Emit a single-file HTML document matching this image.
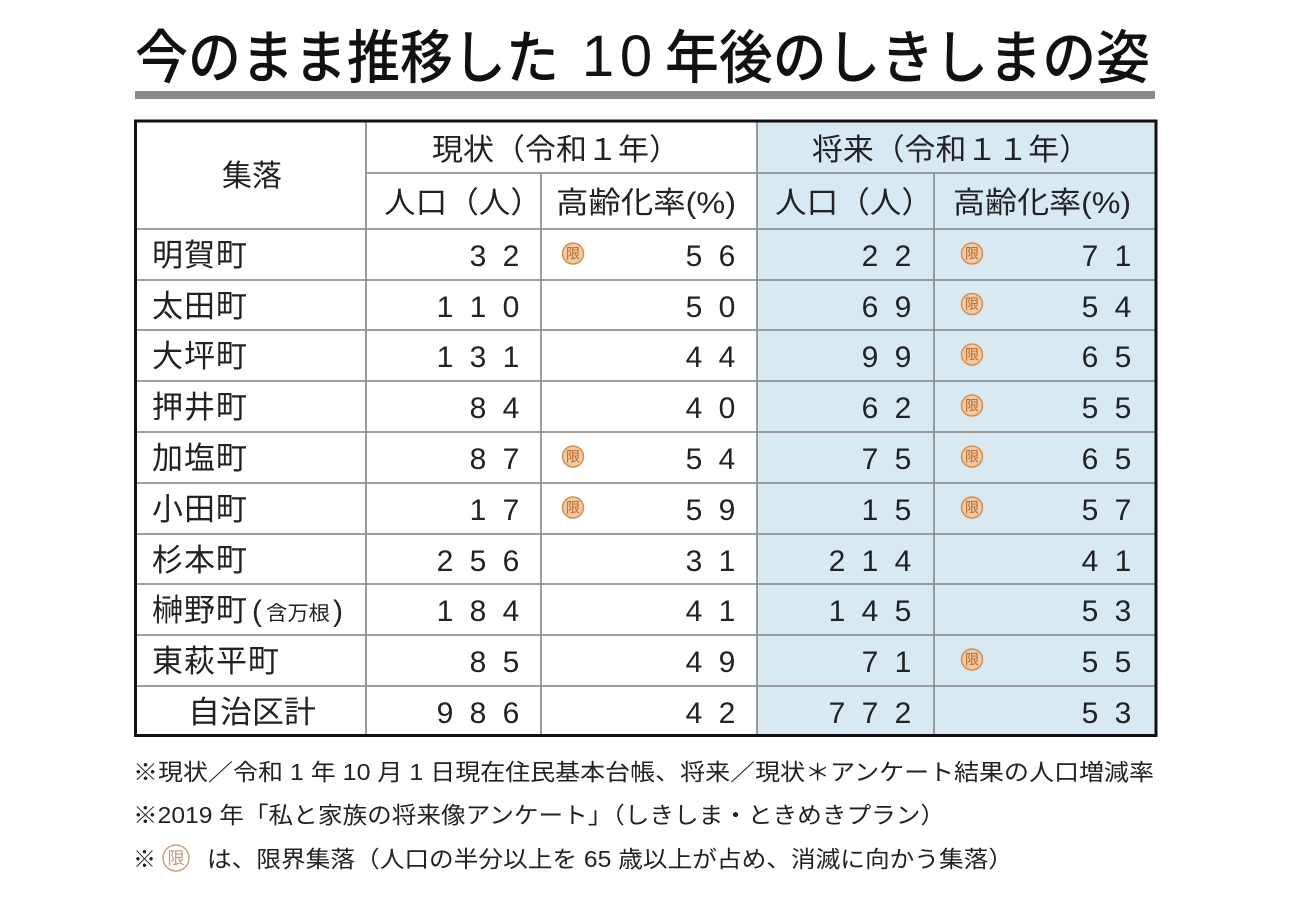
<!DOCTYPE html>
<html lang="ja">
<head>
<meta charset="utf-8">
<style>
html,body{margin:0;padding:0;background:#fff;}
svg{display:block;}
text{font-family:"Liberation Sans","Noto Sans CJK JP",sans-serif;fill:#222;}
.t{fill:#111;font-weight:500;}
.n{font-size:31px;letter-spacing:1px;}
.d{font-size:30px;}
.h{font-size:30px;}
.f{font-size:23px;}
.ic{font-size:14px;fill:#b8672a;}
</style>
</head>
<body>
<svg width="1297" height="898" viewBox="0 0 1297 898" xmlns="http://www.w3.org/2000/svg">
  <rect x="0" y="0" width="1297" height="898" fill="#fff"/>

  <!-- Title -->
  <text class="t" x="135" y="78" font-size="58" textLength="424" lengthAdjust="spacingAndGlyphs">今のまま推移した</text>
  <text class="t" x="598" y="76" font-size="58" text-anchor="middle" style="font-family:'Liberation Sans',sans-serif;">1</text>
  <text class="t" x="636" y="76" font-size="58" text-anchor="middle" style="font-family:'Liberation Sans',sans-serif;">0</text>
  <text class="t" x="665" y="78" font-size="58" textLength="485" lengthAdjust="spacingAndGlyphs">年後のしきしまの姿</text>

  <!-- Gray bar -->
  <rect x="135" y="91" width="1020" height="8" fill="#8a8a8a"/>

  <!-- Blue area -->
  <rect x="757" y="120" width="400" height="617" fill="#d8e9f2"/>

  <!-- Grid lines -->
  <g stroke="#909090" stroke-width="1.8" fill="none">
    <line x1="366" y1="120" x2="366" y2="737"/>
    <line x1="757" y1="120" x2="757" y2="737"/>
    <line x1="541" y1="173" x2="541" y2="737"/>
    <line x1="934" y1="173" x2="934" y2="737"/>
    <line x1="366" y1="173" x2="1157" y2="173"/>
    <line x1="134" y1="229" x2="1157" y2="229"/>
    <line x1="134" y1="280" x2="1157" y2="280"/>
    <line x1="134" y1="330" x2="1157" y2="330"/>
    <line x1="134" y1="381" x2="1157" y2="381"/>
    <line x1="134" y1="432" x2="1157" y2="432"/>
    <line x1="134" y1="483" x2="1157" y2="483"/>
    <line x1="134" y1="534" x2="1157" y2="534"/>
    <line x1="134" y1="584" x2="1157" y2="584"/>
    <line x1="134" y1="635" x2="1157" y2="635"/>
    <line x1="134" y1="686" x2="1157" y2="686"/>
  </g>

  <!-- Outer border -->
  <rect x="135.5" y="121" width="1020.5" height="614.5" fill="none" stroke="#111" stroke-width="3"/>

  <!-- Header -->
  <text class="h" x="252" y="186" font-size="31" text-anchor="middle">集落</text>
  <text class="h" x="432" y="160" textLength="248" lengthAdjust="spacingAndGlyphs">現状（令和１年）</text>
  <text class="h" x="812" y="160" textLength="278" lengthAdjust="spacingAndGlyphs">将来（令和１１年）</text>
  <text class="h" x="384" y="213" textLength="158" lengthAdjust="spacingAndGlyphs">人口（人）</text>
  <text class="h" x="775" y="213" textLength="158" lengthAdjust="spacingAndGlyphs">人口（人）</text>
  <text class="h" x="556" y="213" textLength="180" lengthAdjust="spacingAndGlyphs">高齢化率(%)</text>
  <text class="h" x="953" y="213" textLength="178" lengthAdjust="spacingAndGlyphs">高齢化率(%)</text>

  <!-- Row 1 -->
  <text class="n" x="152" y="266">明賀町</text>
  <text class="d" y="266" x="478 511" text-anchor="middle">32</text>
  <g><circle cx="573" cy="253.5" r="10.5" fill="#f3cba3" stroke="#d48d52" stroke-width="1.5"/><text class="ic" x="573" y="258.5" text-anchor="middle">限</text></g>
  <text class="d" y="266" x="694 727" text-anchor="middle">56</text>
  <text class="d" y="266" x="870 903" text-anchor="middle">22</text>
  <g><circle cx="972" cy="253.5" r="10.5" fill="#f3cba3" stroke="#d48d52" stroke-width="1.5"/><text class="ic" x="972" y="258.5" text-anchor="middle">限</text></g>
  <text class="d" y="266" x="1090 1123" text-anchor="middle">71</text>

  <!-- Row 2 -->
  <text class="n" x="152" y="317">太田町</text>
  <text class="d" y="317" x="445 478 511" text-anchor="middle">110</text>
  <text class="d" y="317" x="694 727" text-anchor="middle">50</text>
  <text class="d" y="317" x="870 903" text-anchor="middle">69</text>
  <g><circle cx="972" cy="304" r="10.5" fill="#f3cba3" stroke="#d48d52" stroke-width="1.5"/><text class="ic" x="972" y="309" text-anchor="middle">限</text></g>
  <text class="d" y="317" x="1090 1123" text-anchor="middle">54</text>

  <!-- Row 3 -->
  <text class="n" x="152" y="367">大坪町</text>
  <text class="d" y="367" x="445 478 511" text-anchor="middle">131</text>
  <text class="d" y="367" x="694 727" text-anchor="middle">44</text>
  <text class="d" y="367" x="870 903" text-anchor="middle">99</text>
  <g><circle cx="972" cy="354.5" r="10.5" fill="#f3cba3" stroke="#d48d52" stroke-width="1.5"/><text class="ic" x="972" y="359.5" text-anchor="middle">限</text></g>
  <text class="d" y="367" x="1090 1123" text-anchor="middle">65</text>

  <!-- Row 4 -->
  <text class="n" x="152" y="418">押井町</text>
  <text class="d" y="418" x="478 511" text-anchor="middle">84</text>
  <text class="d" y="418" x="694 727" text-anchor="middle">40</text>
  <text class="d" y="418" x="870 903" text-anchor="middle">62</text>
  <g><circle cx="972" cy="405.5" r="10.5" fill="#f3cba3" stroke="#d48d52" stroke-width="1.5"/><text class="ic" x="972" y="410.5" text-anchor="middle">限</text></g>
  <text class="d" y="418" x="1090 1123" text-anchor="middle">55</text>

  <!-- Row 5 -->
  <text class="n" x="152" y="469">加塩町</text>
  <text class="d" y="469" x="478 511" text-anchor="middle">87</text>
  <g><circle cx="573" cy="456.5" r="10.5" fill="#f3cba3" stroke="#d48d52" stroke-width="1.5"/><text class="ic" x="573" y="461.5" text-anchor="middle">限</text></g>
  <text class="d" y="469" x="694 727" text-anchor="middle">54</text>
  <text class="d" y="469" x="870 903" text-anchor="middle">75</text>
  <g><circle cx="972" cy="456.5" r="10.5" fill="#f3cba3" stroke="#d48d52" stroke-width="1.5"/><text class="ic" x="972" y="461.5" text-anchor="middle">限</text></g>
  <text class="d" y="469" x="1090 1123" text-anchor="middle">65</text>

  <!-- Row 6 -->
  <text class="n" x="152" y="520">小田町</text>
  <text class="d" y="520" x="478 511" text-anchor="middle">17</text>
  <g><circle cx="573" cy="507.5" r="10.5" fill="#f3cba3" stroke="#d48d52" stroke-width="1.5"/><text class="ic" x="573" y="512.5" text-anchor="middle">限</text></g>
  <text class="d" y="520" x="694 727" text-anchor="middle">59</text>
  <text class="d" y="520" x="870 903" text-anchor="middle">15</text>
  <g><circle cx="972" cy="507.5" r="10.5" fill="#f3cba3" stroke="#d48d52" stroke-width="1.5"/><text class="ic" x="972" y="512.5" text-anchor="middle">限</text></g>
  <text class="d" y="520" x="1090 1123" text-anchor="middle">57</text>

  <!-- Row 7 -->
  <text class="n" x="152" y="571">杉本町</text>
  <text class="d" y="571" x="445 478 511" text-anchor="middle">256</text>
  <text class="d" y="571" x="694 727" text-anchor="middle">31</text>
  <text class="d" y="571" x="837 870 903" text-anchor="middle">214</text>
  <text class="d" y="571" x="1090 1123" text-anchor="middle">41</text>

  <!-- Row 8 -->
  <text class="n" x="152" y="621">榊野町</text>
  <text x="252" y="621" font-size="30" style="font-family:'Liberation Sans',sans-serif;">(</text>
  <text x="266" y="620" font-size="20" textLength="64" lengthAdjust="spacingAndGlyphs">含万根</text>
  <text x="333" y="621" font-size="30" style="font-family:'Liberation Sans',sans-serif;">)</text>
  <text class="d" y="621" x="445 478 511" text-anchor="middle">184</text>
  <text class="d" y="621" x="694 727" text-anchor="middle">41</text>
  <text class="d" y="621" x="837 870 903" text-anchor="middle">145</text>
  <text class="d" y="621" x="1090 1123" text-anchor="middle">53</text>

  <!-- Row 9 -->
  <text class="n" x="152" y="672">東萩平町</text>
  <text class="d" y="672" x="478 511" text-anchor="middle">85</text>
  <text class="d" y="672" x="694 727" text-anchor="middle">49</text>
  <text class="d" y="672" x="870 903" text-anchor="middle">71</text>
  <g><circle cx="972" cy="659.5" r="10.5" fill="#f3cba3" stroke="#d48d52" stroke-width="1.5"/><text class="ic" x="972" y="664.5" text-anchor="middle">限</text></g>
  <text class="d" y="672" x="1090 1123" text-anchor="middle">55</text>

  <!-- Row 10 -->
  <text x="188" y="723" font-size="31" textLength="128" lengthAdjust="spacingAndGlyphs">自治区計</text>
  <text class="d" y="723" x="445 478 511" text-anchor="middle">986</text>
  <text class="d" y="723" x="694 727" text-anchor="middle">42</text>
  <text class="d" y="723" x="837 870 903" text-anchor="middle">772</text>
  <text class="d" y="723" x="1090 1123" text-anchor="middle">53</text>

  <!-- Footnotes -->
  <text class="f" x="133" y="780" textLength="1021" lengthAdjust="spacingAndGlyphs">※現状／令和 1 年 10 月 1 日現在住民基本台帳、将来／現状＊アンケート結果の人口増減率</text>
  <text class="f" x="133" y="823" textLength="812" lengthAdjust="spacingAndGlyphs">※2019 年「私と家族の将来像アンケート」（しきしま・ときめきプラン）</text>
  <text class="f" x="133" y="867">※</text>
  <circle cx="176" cy="858" r="13" fill="#fff" stroke="#c9a27c" stroke-width="1.5"/>
  <text x="176" y="864" font-size="17" text-anchor="middle" style="fill:#c09a74;">限</text>
  <text class="f" x="207" y="867" textLength="806" lengthAdjust="spacingAndGlyphs">は、限界集落（人口の半分以上を 65 歳以上が占め、消滅に向かう集落）</text>
</svg>
</body>
</html>
